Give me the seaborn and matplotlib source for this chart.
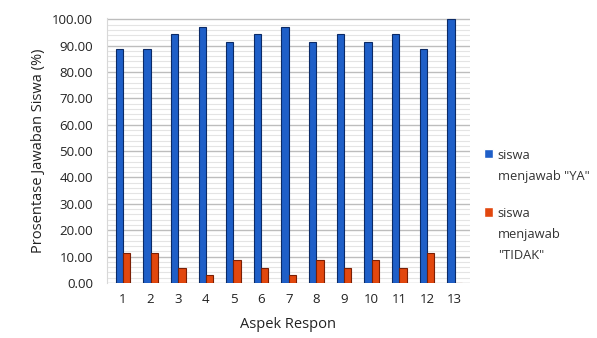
import matplotlib
matplotlib.use("Agg")
import matplotlib.pyplot as plt
import seaborn as sns
import pandas as pd
from matplotlib.ticker import MultipleLocator, FormatStrFormatter

aspek = [str(i) for i in range(1, 14)]
ya = [88.57, 88.57, 94.29, 97.14, 91.43, 94.29, 97.14, 91.43, 94.29, 91.43, 94.29, 88.57, 100.00]
tidak = [11.43, 11.43, 5.71, 2.86, 8.57, 5.71, 2.86, 8.57, 5.71, 8.57, 5.71, 11.43, 0.00]
series_names = ['siswa\nmenjawab "YA"', 'siswa\nmenjawab\n"TIDAK"']

df = pd.DataFrame({
    "Aspek": aspek * 2,
    "Nilai": ya + tidak,
    "Seri": [series_names[0]] * len(aspek) + [series_names[1]] * len(aspek),
})

sns.set_style("white")
plt.rcParams["font.family"] = ["Open Sans", "DejaVu Sans"]

fig = plt.figure(figsize=(5.97, 3.38), dpi=100)
ax = fig.add_axes([0.179, 0.163, 0.608, 0.784])

palette = {series_names[0]: "#1f5fc8", series_names[1]: "#e2470e"}
sns.barplot(data=df, x="Aspek", y="Nilai", hue="Seri", palette=palette,
            width=0.53, ax=ax, saturation=1, legend=True)

edge = {series_names[0]: "#0b2a66", series_names[1]: "#7a1f05"}
for container, name in zip(ax.containers, series_names):
    for bar in container:
        bar.set_edgecolor(edge[name])
        bar.set_linewidth(0.8)

ax.set_ylim(0, 100.5)
ax.set_xlim(-0.58, 12.55)
ax.yaxis.set_major_locator(MultipleLocator(10))
ax.yaxis.set_minor_locator(MultipleLocator(2))
ax.yaxis.set_major_formatter(FormatStrFormatter("%.2f"))
ax.grid(axis="y", which="major", color="#bdbdbd", linewidth=1.0)
ax.grid(axis="y", which="minor", color="#e4e4e4", linewidth=0.8)
ax.set_axisbelow(True)
for s in ax.spines.values():
    s.set_visible(False)
ax.spines["left"].set_visible(True)
ax.spines["left"].set_color("#d8d8d8")
ax.spines["left"].set_linestyle((0, (2, 1)))

ax.tick_params(axis="both", which="both", length=0, labelsize=9.5, colors="#222222")
ax.tick_params(axis="x", pad=7)
ax.tick_params(axis="y", pad=10)
ax.set_xlabel("Aspek Respon", fontsize=10.5, color="#222222", labelpad=8)
ax.set_ylabel("Prosentase Jawaban Siswa (%)", fontsize=10.5, color="#222222", labelpad=4)

handles, labels = ax.get_legend_handles_labels()
leg = ax.legend(handles, labels, loc="upper left", bbox_to_anchor=(1.02, 0.53),
                frameon=False, fontsize=9.3, handlelength=0.75, handleheight=0.75,
                handletextpad=0.35, labelspacing=1.9, labelcolor="#333333",
                borderpad=0)
for t in leg.get_texts():
    t.set_linespacing(1.78)
# put each swatch beside the first line of its label
for column in leg._legend_handle_box.get_children():
    for row in column.get_children():
        row.align = "top"

fig.savefig("out.png", dpi=100)
